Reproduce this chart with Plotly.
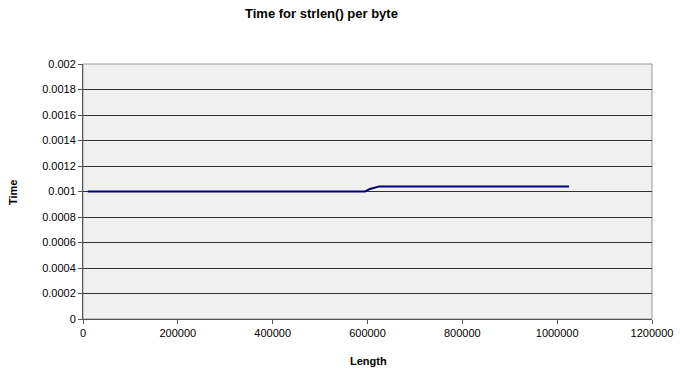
import plotly.graph_objects as go

length = [10000, 200000, 205000, 210000, 595000, 605000, 625000, 1025000]
time_per_byte = [0.001, 0.001, 0.001004, 0.001, 0.001, 0.00102, 0.00104, 0.00104]

y_ticks = [0, 0.0002, 0.0004, 0.0006, 0.0008, 0.001, 0.0012, 0.0014, 0.0016, 0.0018, 0.002]
y_labels = ["0", "0.0002", "0.0004", "0.0006", "0.0008", "0.001", "0.0012", "0.0014", "0.0016", "0.0018", "0.002"]
x_ticks = [0, 200000, 400000, 600000, 800000, 1000000, 1200000]
x_labels = ["0", "200000", "400000", "600000", "800000", "1000000", "1200000"]

W, H = 680, 375
L, T, R, B = 83, 64, 680 - 652, 375 - 319
PW, PH = W - L - R, H - T - B

fig = go.Figure()
fig.add_trace(go.Scatter(x=length, y=time_per_byte, mode="lines",
                         line=dict(color="#000080", width=2), showlegend=False))

font = "Liberation Sans, Arial, sans-serif"
fig.update_layout(
    width=W, height=H,
    margin=dict(l=L, r=R, t=T, b=B, autoexpand=False),
    paper_bgcolor="white",
    plot_bgcolor="#f0f0f0",
    font=dict(family=font, size=11, color="black"),
    xaxis=dict(range=[0, 1200000], tickvals=x_ticks, ticktext=x_labels, automargin=False,
               tickfont=dict(family=font, size=11),
               showgrid=False, zeroline=False, showline=True, linecolor="#555555",
               linewidth=1, ticks="outside", ticklen=4, tickcolor="#555555"),
    yaxis=dict(range=[0, 0.002], tickvals=y_ticks, ticktext=y_labels, automargin=False,
               tickfont=dict(family=font, size=11),
               showgrid=True, gridcolor="#333333", gridwidth=1, zeroline=False,
               showline=True, linecolor="#555555", linewidth=1,
               ticks="outside", ticklen=4, tickcolor="#555555"),
)

def px(x):
    return (x - L) / PW

def py(y):
    return (H - B - y) / PH

fig.add_annotation(text="<b>Time for strlen() per byte</b>", xref="paper", yref="paper",
                   x=px(321), y=py(13), xanchor="center", yanchor="middle",
                   showarrow=False, font=dict(family=font, size=13, color="black"))
fig.add_annotation(text="<b>Length</b>", xref="paper", yref="paper",
                   x=px(368), y=py(361), xanchor="center", yanchor="middle",
                   showarrow=False, font=dict(family=font, size=11, color="black"))
fig.add_annotation(text="<b>Time</b>", xref="paper", yref="paper", textangle=-90,
                   x=px(13), y=py(193), xanchor="center", yanchor="middle",
                   showarrow=False, font=dict(family=font, size=11, color="black"))
fig.add_shape(type="rect", xref="paper", yref="paper", x0=0, x1=1, y0=0, y1=1,
              line=dict(color="#999999", width=1), layer="below")

fig.write_html("out.html", config={"displayModeBar": False},
               post_script="document.body.style.margin='0';document.body.style.overflow='hidden';")
